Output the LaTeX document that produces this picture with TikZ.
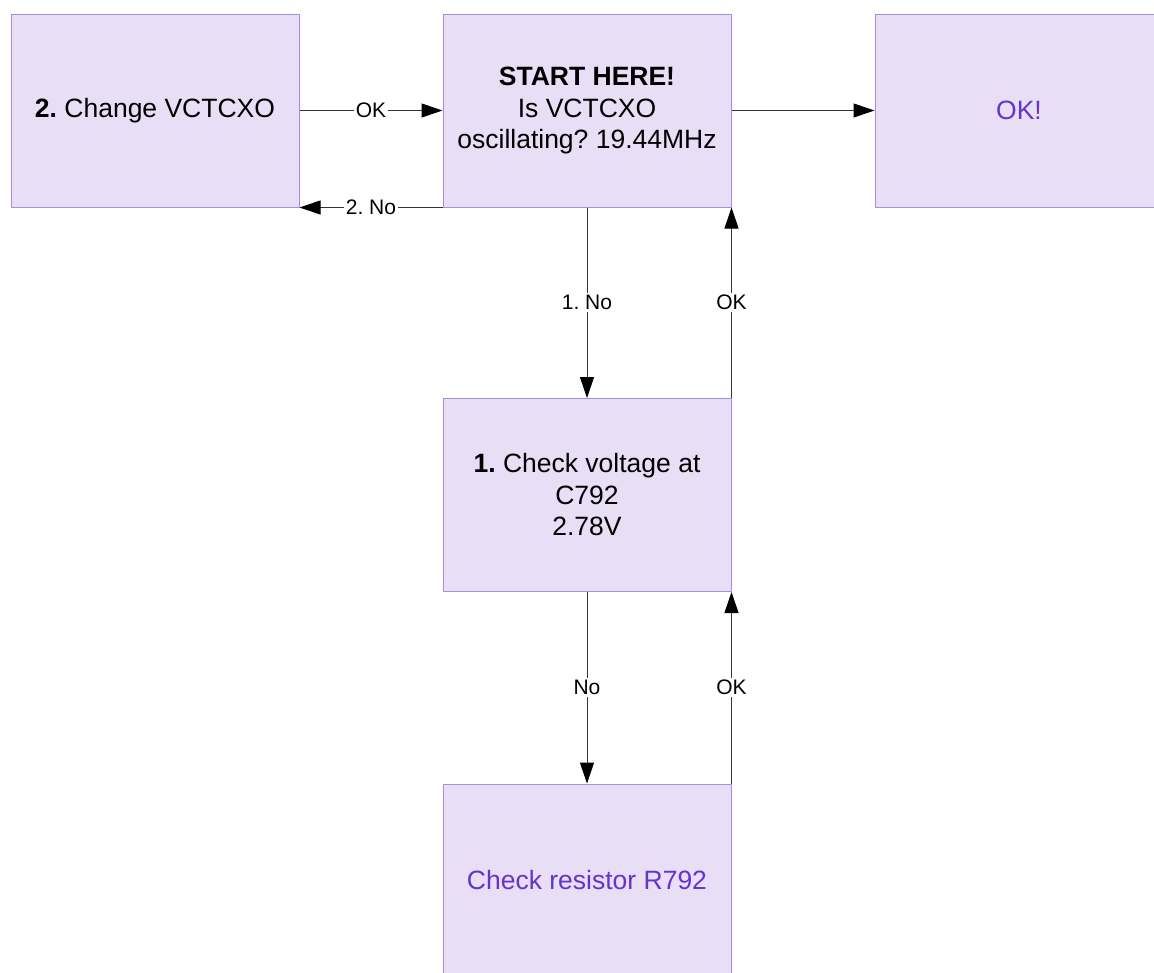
\documentclass[tikz,border=0pt]{standalone}
\usepackage{fontspec}
\setmainfont{Liberation Sans}
\usetikzlibrary{arrows.meta}
\definecolor{boxfill}{HTML}{E8DEF5}
\definecolor{boxline}{HTML}{A98BE6}
\definecolor{boxtext}{HTML}{6633CC}
\definecolor{wire}{HTML}{333333}
\frenchspacing
\begin{document}
\begin{tikzpicture}[x=1pt, y=-1pt, line join=round, >={Triangle[length=21pt,width=14pt,color=black]},
        box/.style={draw=boxline, fill=boxfill, line width=1pt, minimum width=288pt, minimum height=193pt, align=center, font=\fontsize{26.5}{31.5}\selectfont},
        arr/.style={->, draw=wire, line width=1pt},
        lbl/.style={fill=white, inner sep=2pt, font=\fontsize{21}{24}\selectfont}]
            \useasboundingbox (0,0) rectangle (1154,972);
            \node[box] (chg) at (155,110.5) {\textbf{2.} Change VCTCXO};
            \node[box] (start) at (587,110.5) {\textbf{START HERE!}\\Is VCTCXO\\oscillating? 19.44MHz};
            \node[box, text=boxtext] (ok) at (1019,110.5) {OK!};
            \node[box] (volt) at (587,495) {\textbf{1.} Check voltage at\\C792\\2.78V};
            \node[box, text=boxtext] (res) at (587,880.5) {Check resistor R792};
            \draw[arr] (chg.east) -- node[lbl]{OK} (start.west);
            \draw[arr] (start.south west) -- node[lbl]{2. No} (chg.south east);
            \draw[arr] (start.east) -- (ok.west);
            \draw[arr] (start.south) -- node[lbl]{1. No} (volt.north);
            \draw[arr] (volt.north east) -- node[lbl]{OK} (start.south east);
            \draw[arr] (volt.south) -- node[lbl]{No} (res.north);
            \draw[arr] (res.north east) -- node[lbl]{OK} (volt.south east);
        \end{tikzpicture}
\end{document}
